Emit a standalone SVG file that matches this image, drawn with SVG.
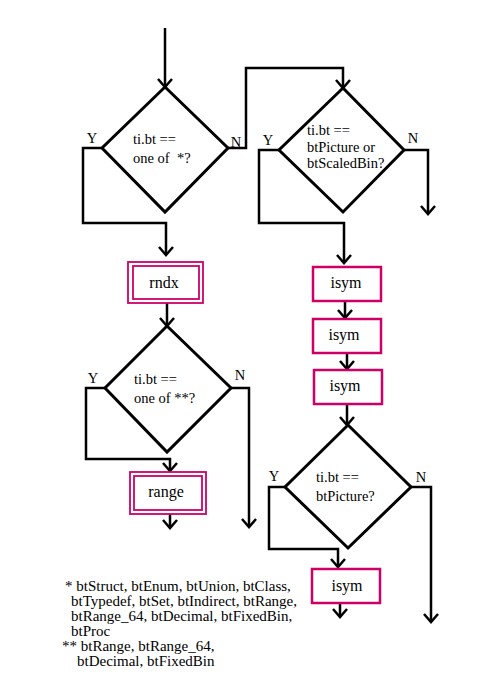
<svg xmlns="http://www.w3.org/2000/svg" width="500" height="700" viewBox="0 0 500 700">
<style>
text{font-family:"Liberation Serif","Times New Roman",serif;font-size:14.5px;fill:#000}
.c{text-anchor:middle}
.t{font-size:16px}
.n{font-size:15px}
.d{fill:#fff;stroke:#000;stroke-width:3;stroke-linejoin:miter}
.b{fill:#fff;stroke:#cc0066;stroke-width:2.5}
.bb{fill:none;stroke:#cc0066;stroke-width:1.8}
.w{fill:none;stroke:#000;stroke-width:2.5;marker-end:url(#a)}
</style>
<defs>
<marker id="a" markerUnits="userSpaceOnUse" markerWidth="20" markerHeight="20" refX="0" refY="0" viewBox="-10 -10 20 20" orient="auto" overflow="visible">
<path d="M-8,-7 L0,0 L-8,7" fill="none" stroke="#000" stroke-width="2.5"/>
</marker>
</defs>
<g id="connectors">
<path class="w" d="M165,28 V87"/>
<path class="w" d="M102,148 H83 V223 H166 V255"/>
<path class="w" d="M228,148 H246 V68 H343 V88"/>
<path class="w" d="M279,150 H259 V223 H344 V263"/>
<path class="w" d="M404,150 H428 V214"/>
<path class="w" d="M167,303 V326"/>
<path class="w" d="M105,388 H86 V459 H170 V471"/>
<path class="w" d="M231,388 H249 V527"/>
<path class="w" d="M170,514 V528"/>
<path class="w" d="M345,301 V318"/>
<path class="w" d="M347,353 V369"/>
<path class="w" d="M347,404 V425"/>
<path class="w" d="M285,487 H269 V549 H338 V567"/>
<path class="w" d="M411,487 H431 V622"/>
<path class="w" d="M340,603 V617"/>
</g>
<g id="labels">
<text class="c" x="92" y="143">Y</text>
<text class="c" x="236" y="147">N</text>
<text class="c" x="268" y="145">Y</text>
<text class="c" x="413" y="143">N</text>
<text class="c" x="93" y="383">Y</text>
<text class="c" x="240" y="380">N</text>
<text class="c" x="274" y="481">Y</text>
<text class="c" x="421" y="482">N</text>
</g>
<g id="decision1">
<polygon class="d" points="165,87 228,148 165,212 102,148"/>
<text x="133" y="144">ti.bt ==</text>
<text x="133" y="163">one of &#160;*?</text>
</g>
<g id="decision2">
<polygon class="d" points="343,88 404,150 343,212 279,150"/>
<text x="307" y="135">ti.bt ==</text>
<text x="307" y="152">btPicture or</text>
<text x="307" y="168">btScaledBin?</text>
</g>
<g id="rndx">
<rect class="b" x="128" y="262" width="75" height="41" style="stroke-width:1.8"/>
<rect class="bb" x="133" y="266" width="66" height="33"/>
<text class="c t" x="164" y="288">rndx</text>
</g>
<g id="decision3">
<polygon class="d" points="167,326 231,388 167,452 105,388"/>
<text x="134" y="384">ti.bt ==</text>
<text x="134" y="403">one of **?</text>
</g>
<g id="range">
<rect class="b" x="130" y="472" width="76" height="42" style="stroke-width:1.8"/>
<rect class="bb" x="134" y="476" width="68" height="34"/>
<text class="c t" x="166" y="497">range</text>
</g>
<g id="isym1">
<rect class="b" x="313" y="267" width="68" height="34"/>
<text class="c t" x="346" y="288">isym</text>
</g>
<g id="isym2">
<rect class="b" x="313" y="319" width="68" height="34"/>
<text class="c t" x="344" y="340">isym</text>
</g>
<g id="isym3">
<rect class="b" x="314" y="370" width="68" height="34"/>
<text class="c t" x="345" y="391">isym</text>
</g>
<g id="decision4">
<polygon class="d" points="348,425 411,487 348,548 285,487"/>
<text x="316" y="482">ti.bt ==</text>
<text x="316" y="501">btPicture?</text>
</g>
<g id="isym4">
<rect class="b" x="312" y="569" width="68" height="34"/>
<text class="c t" x="347" y="591">isym</text>
</g>
<g id="notes" class="n">
<text class="n" x="65" y="591">* btStruct, btEnum, btUnion, btClass,</text>
<text class="n" x="71" y="606">btTypedef, btSet, btIndirect, btRange,</text>
<text class="n" x="71" y="621">btRange_64, btDecimal, btFixedBin,</text>
<text class="n" x="71" y="636">btProc</text>
<text class="n" x="62" y="651">** btRange, btRange_64,</text>
<text class="n" x="77" y="666">btDecimal, btFixedBin</text>
</g>
</svg>
